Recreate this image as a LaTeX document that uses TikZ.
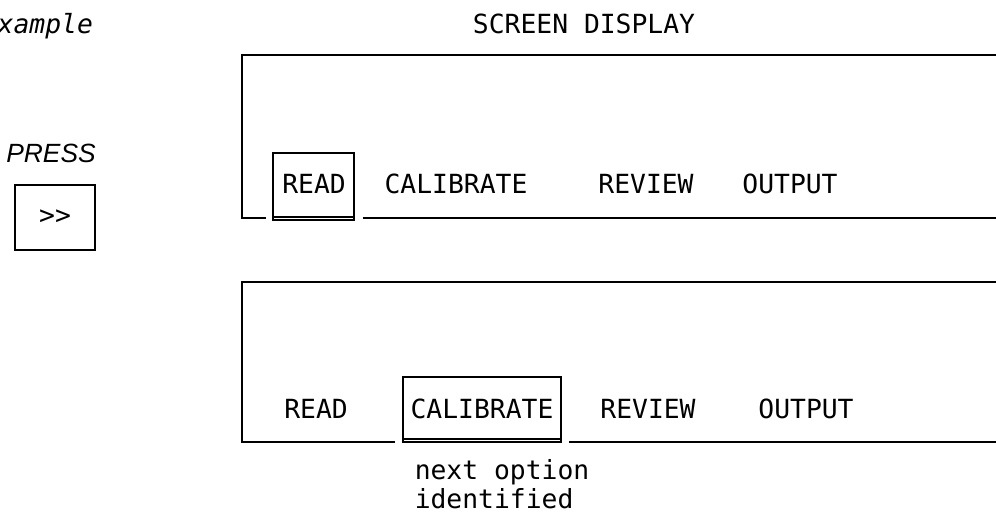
\documentclass[tikz,border=0pt]{standalone}
\usepackage{fontspec}
\setmonofont{DejaVu Sans Mono}
\setsansfont{Liberation Sans}
\usetikzlibrary{fit,positioning}

\tikzset{
  scr/.style={font=\ttfamily\fontsize{15}{18}\selectfont, inner sep=0pt, anchor=base},
  hilite/.style={inner sep=0pt, draw}
}

\begin{document}
\begin{tikzpicture}[x=0.02cm, y=-0.02cm, line width=0.85pt]
      \useasboundingbox (0,0) rectangle (996,515);

      \node[scr, anchor=base west] (ex) at (-3,33) {\itshape xample};
      \node[scr] (title) at (584,33) {SCREEN DISPLAY};

      \node[font=\sffamily\itshape\fontsize{15}{18}\selectfont, anchor=base]
      (press) at (51,162) {PRESS};
      \node[fit={(15,185) (95,250)}, hilite] (key) {}; \node[scr, anchor=center]
      at (key.center) {>>};

      % first screen
      \draw (266,218) -- (242,218) -- (242,55) -- (996,55); \draw (363,218) --
      (996,218);
      \node[fit={(273,153) (354,220)}, hilite] (sel1) {}; \draw
      (sel1.south west) ++(0,-4) -- ++(81,0);
      \node[scr] (read1) at (314,193) {READ}; \node[scr] (cal1) at (456,193)
      {CALIBRATE}; \node[scr] (rev1) at (646,193) {REVIEW}; \node[scr] (out1)
      at (790,193) {OUTPUT};

      % second screen
      \draw (395,442) -- (242,442) -- (242,282) -- (996,282); \draw (569,442) --
      (996,442);
      \node[fit={(403,377) (561,442)}, hilite] (sel2) {}; \draw
      (sel2.south west) ++(0,-4) -- ++(158,0);
      \node[scr] (read2) at (316,418) {READ}; \node[scr] (cal2) at (482,418)
      {CALIBRATE}; \node[scr] (rev2) at (648,418) {REVIEW}; \node[scr] (out2)
      at (806,418) {OUTPUT};

      \node[scr, anchor=base west] (note1) at (414,479) {next option};
      \node[scr, anchor=base west] (note2) at (414,508) {identified};
    \end{tikzpicture}
\end{document}
